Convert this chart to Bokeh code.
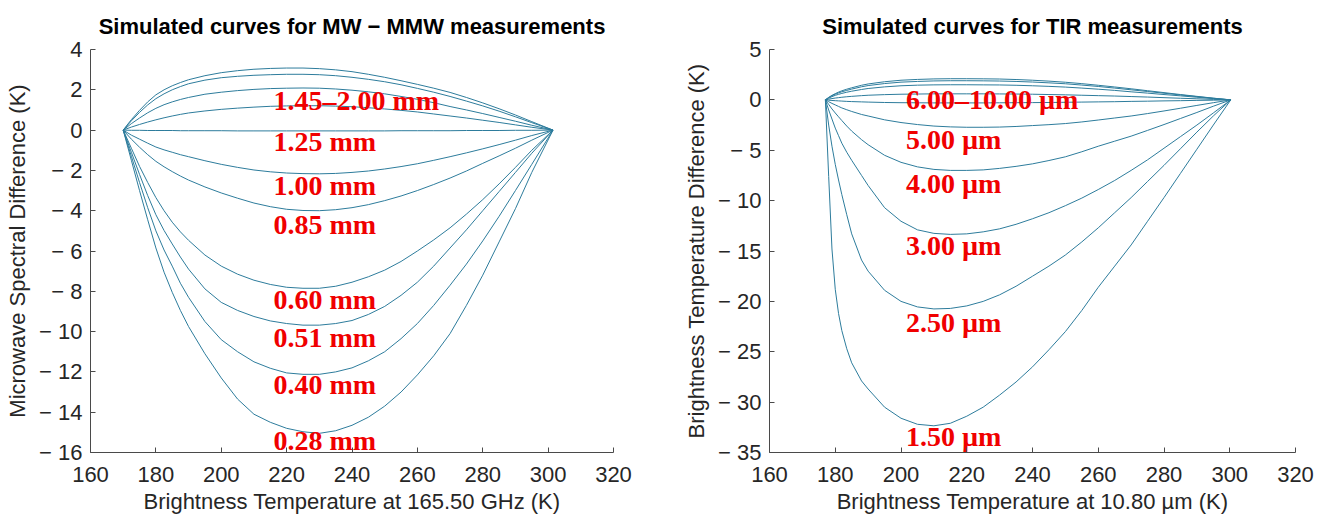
from bokeh.plotting import figure
from bokeh.layouts import row
from bokeh.models import Range1d, FixedTicker
from bokeh.core.properties import value
from bokeh.embed import file_html
from bokeh.resources import INLINE

# ---------------- data: MW - MMW panel ----------------
mw_x = [170, 172.5, 175, 177.5, 180, 182.5, 185, 187.5, 190, 195, 200, 205, 210, 215, 220, 225,
        230, 235, 240, 245, 250, 255, 260, 265, 270, 275, 280, 285, 290, 295, 301.5]
mw_2_00 = [0, 0.52, 0.98, 1.4, 1.75, 2.0, 2.2, 2.36, 2.5, 2.7, 2.85, 2.95, 3.02, 3.06, 3.08, 3.08,
           3.05, 2.99, 2.9, 2.77, 2.62, 2.45, 2.27, 2.08, 1.87, 1.62, 1.35, 1.06, 0.75, 0.42, 0]
mw_1_80 = [0, 0.46, 0.88, 1.25, 1.56, 1.8, 2.0, 2.16, 2.3, 2.48, 2.6, 2.67, 2.72, 2.75, 2.77, 2.77,
           2.75, 2.7, 2.62, 2.52, 2.4, 2.25, 2.07, 1.88, 1.67, 1.44, 1.2, 0.94, 0.66, 0.37, 0]
mw_1_60 = [0, 0.32, 0.6, 0.86, 1.08, 1.26, 1.4, 1.52, 1.62, 1.78, 1.88, 1.96, 2.02, 2.06, 2.08, 2.09,
           2.08, 2.04, 1.98, 1.9, 1.8, 1.67, 1.53, 1.36, 1.17, 1.0, 0.82, 0.63, 0.44, 0.24, 0]
mw_1_45 = [0, 0.15, 0.28, 0.4, 0.51, 0.61, 0.7, 0.78, 0.85, 0.95, 1.03, 1.09, 1.14, 1.18, 1.2, 1.21,
           1.21, 1.19, 1.16, 1.11, 1.05, 0.98, 0.9, 0.8, 0.7, 0.6, 0.49, 0.38, 0.26, 0.14, 0]
mw_1_25 = [0, -0.01, -0.01, -0.02, -0.02, -0.02, -0.02, -0.03, -0.03, -0.03, -0.03, -0.04, -0.04, -0.04, -0.04, -0.04,
           -0.04, -0.04, -0.04, -0.04, -0.04, -0.03, -0.03, -0.03, -0.03, -0.02, -0.02, -0.02, -0.01, -0.01, 0]
mw_1_00 = [0, -0.25, -0.45, -0.65, -0.84, -0.98, -1.1, -1.22, -1.32, -1.52, -1.7, -1.85, -1.98, -2.07, -2.13, -2.16,
           -2.17, -2.15, -2.1, -2.03, -1.93, -1.81, -1.67, -1.5, -1.32, -1.13, -0.93, -0.72, -0.5, -0.27, 0]
mw_0_85 = [0, -0.45, -0.85, -1.22, -1.55, -1.82, -2.06, -2.28, -2.48, -2.82, -3.12, -3.38, -3.62, -3.8, -3.93, -3.99,
           -4.0, -3.95, -3.85, -3.7, -3.5, -3.27, -3.0, -2.7, -2.38, -2.03, -1.65, -1.28, -0.9, -0.5, 0]
mw_0_60 = [0, -0.9, -1.8, -2.6, -3.35, -4.0, -4.57, -5.05, -5.47, -6.2, -6.75, -7.15, -7.45, -7.66, -7.8, -7.85,
           -7.85, -7.75, -7.55, -7.28, -6.95, -6.52, -6.0, -5.45, -4.85, -4.17, -3.45, -2.67, -1.85, -1.0, 0]
mw_0_51 = [0, -1.1, -2.2, -3.25, -4.2, -4.98, -5.65, -6.3, -6.9, -7.88, -8.55, -8.95, -9.25, -9.47, -9.6, -9.68,
           -9.68, -9.6, -9.45, -9.15, -8.75, -8.2, -7.55, -6.75, -5.85, -4.95, -4.0, -3.05, -2.1, -1.15, 0]
mw_0_40 = [0, -1.3, -2.6, -3.85, -5.0, -5.95, -6.75, -7.6, -8.3, -9.5, -10.4, -11.0, -11.5, -11.82, -12.05, -12.12,
           -12.12, -12.0, -11.8, -11.45, -11.0, -10.35, -9.6, -8.7, -7.7, -6.65, -5.5, -4.28, -3.0, -1.7, 0]
mw_0_28 = [0, -1.5, -3.0, -4.45, -5.85, -7.05, -8.05, -8.95, -9.75, -11.1, -12.3, -13.35, -14.1, -14.5, -14.8, -14.97,
           -15.05, -14.92, -14.65, -14.25, -13.7, -13.0, -12.15, -11.2, -10.1, -8.7, -7.2, -5.55, -3.9, -2.1, 0]
mw_labels = ["1.45\u20132.00 mm", "1.25 mm", "1.00 mm", "0.85 mm", "0.60 mm", "0.51 mm", "0.40 mm", "0.28 mm"]

# ---------------- data: TIR panel ----------------
tir_x = [177, 178, 179, 180, 181, 182, 183.5, 185, 188, 190, 195, 200, 205, 210, 215, 220,
         225, 230, 235, 240, 245, 250, 255, 260, 265, 270, 275, 280, 285, 290, 295, 300.3]
tir_10_00 = [0, 0.25, 0.45, 0.62, 0.77, 0.9, 1.06, 1.2, 1.45, 1.58, 1.8, 1.95, 2.03, 2.08, 2.1, 2.1,
             2.09, 2.07, 2.02, 1.95, 1.86, 1.75, 1.61, 1.45, 1.28, 1.1, 0.91, 0.72, 0.53, 0.35, 0.17, 0]
tir_9_00 = [0, 0.22, 0.4, 0.56, 0.69, 0.8, 0.94, 1.07, 1.3, 1.42, 1.62, 1.76, 1.83, 1.88, 1.9, 1.9,
            1.89, 1.87, 1.83, 1.77, 1.69, 1.6, 1.47, 1.33, 1.17, 1.0, 0.83, 0.66, 0.49, 0.32, 0.16, 0]
tir_8_00 = [0, 0.17, 0.32, 0.45, 0.55, 0.64, 0.76, 0.86, 1.03, 1.13, 1.29, 1.4, 1.46, 1.49, 1.5, 1.5,
            1.49, 1.48, 1.45, 1.4, 1.34, 1.27, 1.17, 1.06, 0.94, 0.8, 0.67, 0.53, 0.4, 0.26, 0.13, 0]
tir_7_00 = [0, 0.07, 0.13, 0.18, 0.22, 0.26, 0.31, 0.35, 0.42, 0.46, 0.52, 0.56, 0.58, 0.6, 0.6, 0.6,
            0.6, 0.59, 0.58, 0.56, 0.53, 0.5, 0.46, 0.42, 0.38, 0.33, 0.28, 0.22, 0.16, 0.11, 0.05, 0]
tir_6_00 = [0, -0.03, -0.06, -0.08, -0.1, -0.12, -0.15, -0.17, -0.2, -0.22, -0.26, -0.28, -0.29, -0.3, -0.3, -0.3,
            -0.3, -0.29, -0.28, -0.27, -0.26, -0.24, -0.22, -0.2, -0.18, -0.15, -0.13, -0.1, -0.08, -0.05, -0.03, 0]
tir_5_00 = [0, -0.18, -0.35, -0.5, -0.65, -0.8, -0.98, -1.15, -1.45, -1.6, -1.98, -2.25, -2.45, -2.6, -2.68, -2.72,
            -2.72, -2.7, -2.64, -2.55, -2.46, -2.35, -2.19, -2.0, -1.8, -1.6, -1.36, -1.1, -0.83, -0.55, -0.28, 0]
tir_4_00 = [0, -0.45, -0.9, -1.3, -1.68, -2.05, -2.6, -3.1, -3.95, -4.45, -5.5, -6.2, -6.65, -6.9, -7.0, -7.0,
            -6.95, -6.8, -6.6, -6.35, -6.02, -5.65, -5.15, -4.6, -4.1, -3.6, -3.03, -2.45, -1.85, -1.25, -0.63, 0]
tir_3_00 = [0, -1.0, -1.9, -2.8, -3.55, -4.3, -5.2, -6.0, -7.5, -8.5, -10.7, -12.05, -12.9, -13.25, -13.35, -13.3,
            -13.1, -12.8, -12.35, -11.8, -11.2, -10.5, -9.75, -8.9, -8.0, -7.0, -5.95, -4.8, -3.65, -2.5, -1.3, 0]
tir_2_50 = [0, -2.5, -4.6, -6.4, -7.95, -9.4, -11.4, -13.3, -15.9, -17.0, -18.9, -20.0, -20.55, -20.75, -20.7, -20.45,
            -20.0, -19.35, -18.5, -17.5, -16.5, -15.4, -14.1, -12.7, -11.2, -9.7, -8.1, -6.5, -4.85, -3.2, -1.6, 0]
tir_1_50 = [0, -7.6, -14.8, -18.8, -21.2, -22.9, -24.7, -26.1, -27.9, -28.7, -30.5, -31.6, -32.2, -32.35, -32.1, -31.4,
            -30.5, -29.3, -28.0, -26.5, -24.8, -23.0, -20.9, -18.6, -16.5, -14.4, -12.05, -9.7, -7.3, -4.9, -2.5, 0]
tir_labels = ["6.00\u201310.00 \u00b5m", "5.00 \u00b5m", "4.00 \u00b5m", "3.00 \u00b5m", "2.50 \u00b5m", "1.50 \u00b5m"]

x_ticks = [160, 180, 200, 220, 240, 260, 280, 300, 320]
mw_y_ticks = [4, 2, 0, -2, -4, -6, -8, -10, -12, -14, -16]
tir_y_ticks = [5, 0, -5, -10, -15, -20, -25, -30, -35]

# ---------------- layout / style constants ----------------
LINE = "#2d7c9c"
RED = "#f00000"
AX = "#4a4a4a"
TXT = "#262626"
SANS = "Liberation Sans"
FS = "22px"
LFS = "28px"
mw_label_x = 216.0
mw_label_y = [1.49, -0.57, -2.73, -4.68, -8.39, -10.27, -12.62, -15.42]
tir_label_x = 201.5
tir_label_y = [0.05, -3.95, -8.31, -14.42, -22.1, -33.4]


def fmt(t):
    return ("\u2212 " + str(abs(t))) if t < 0 else str(t)


def style(p, xlabel, ylabel, yticks):
    p.xaxis.ticker = FixedTicker(ticks=x_ticks)
    p.yaxis.ticker = FixedTicker(ticks=yticks)
    p.yaxis.major_label_overrides = {t: fmt(t) for t in yticks}
    p.xaxis.axis_label = xlabel
    p.yaxis.axis_label = ylabel
    p.xgrid.visible = False
    p.ygrid.visible = False
    p.outline_line_color = None
    p.background_fill_color = "white"
    p.border_fill_color = "white"
    for ax in (p.xaxis[0], p.yaxis[0]):
        ax.axis_line_color = AX
        ax.axis_line_width = 1
        ax.major_tick_line_color = AX
        ax.major_tick_in = 5
        ax.major_tick_out = 0
        ax.minor_tick_line_color = None
        ax.major_label_text_font = SANS
        ax.major_label_text_font_size = FS
        ax.major_label_text_color = TXT
        ax.axis_label_text_font = SANS
        ax.axis_label_text_font_size = FS
        ax.axis_label_text_font_style = "normal"
        ax.axis_label_text_color = TXT
    p.xaxis.major_label_standoff = 14
    p.yaxis.major_label_standoff = 8
    p.xaxis.axis_label_standoff = 4
    p.yaxis.axis_label_standoff = 6
    p.title.text_font = SANS
    p.title.text_font_size = FS
    p.title.text_font_style = "bold"
    p.title.text_color = "black"
    p.title.align = "center"
    p.title.text_line_height = 0.8
    p.title.standoff = 22


p1 = figure(frame_width=523, frame_height=403, min_border_left=90, min_border_right=47,
            min_border_top=48, min_border_bottom=68,
            x_range=Range1d(160, 320), y_range=Range1d(-16, 4),
            title="Simulated curves for MW \u2212 MMW measurements",
            output_backend="svg", toolbar_location=None)
style(p1, "Brightness Temperature at 165.50 GHz (K)", "Microwave Spectral Difference (K)", mw_y_ticks)
for ys in [mw_2_00, mw_1_80, mw_1_60, mw_1_45, mw_1_25, mw_1_00, mw_0_85, mw_0_60, mw_0_51, mw_0_40, mw_0_28]:
    p1.line(mw_x, ys, line_color=LINE, line_width=1)
p1.text(x=[mw_label_x] * len(mw_labels), y=mw_label_y, text=mw_labels,
        text_font=value("Liberation Serif"), text_font_style="bold", text_font_size=LFS,
        text_color=RED, text_align="left", text_baseline="middle")

p2 = figure(frame_width=526, frame_height=403, min_border_left=109, min_border_right=30,
            min_border_top=48, min_border_bottom=68,
            x_range=Range1d(160, 320), y_range=Range1d(-35, 5),
            title="Simulated curves for TIR measurements",
            output_backend="svg", toolbar_location=None)
style(p2, "Brightness Temperature at 10.80 \u00b5m (K)", "Brightness Temperature Difference (K)", tir_y_ticks)
for ys in [tir_10_00, tir_9_00, tir_8_00, tir_7_00, tir_6_00, tir_5_00, tir_4_00, tir_3_00, tir_2_50, tir_1_50]:
    p2.line(tir_x, ys, line_color=LINE, line_width=1)
p2.text(x=[tir_label_x] * len(tir_labels), y=tir_label_y, text=tir_labels,
        text_font=value("Liberation Serif"), text_font_style="bold", text_font_size=LFS,
        text_color=RED, text_align="left", text_baseline="middle")

layout = row(p1, p2)
open("out.html", "w").write(file_html(layout, INLINE))
